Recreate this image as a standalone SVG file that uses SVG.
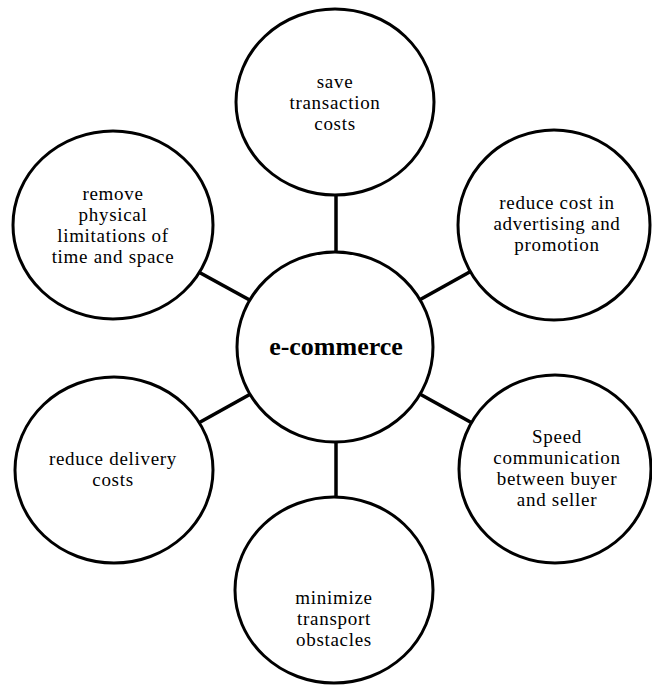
<svg xmlns="http://www.w3.org/2000/svg" width="652" height="686" viewBox="0 0 652 686">
<style>
.c{fill:#fff;stroke:#000;stroke-width:3}
.l{stroke:#000;stroke-width:3.5;fill:none}
.t{font-family:"Liberation Serif","DejaVu Serif","Times New Roman",serif;font-size:19px;letter-spacing:0.7px;fill:#000;text-anchor:middle}
.b{font-family:"Liberation Serif","DejaVu Serif","Times New Roman",serif;font-size:26px;font-weight:bold;fill:#000;text-anchor:middle}
</style>
<rect width="652" height="686" fill="#fff"/>
<g id="connectors">
<line class="l" x1="336" y1="347" x2="336" y2="102"/>
<line class="l" x1="336" y1="347" x2="336" y2="590"/>
<line class="l" x1="335" y1="347" x2="113" y2="225"/>
<line class="l" x1="335" y1="347" x2="554" y2="225"/>
<line class="l" x1="335" y1="347" x2="114" y2="470"/>
<line class="l" x1="335" y1="347" x2="555" y2="469"/>
</g>
<g id="center">
<ellipse class="c" cx="335" cy="347" rx="98" ry="95"/>
<text class="b" x="336" y="355" font-family="Liberation Serif, serif">e-commerce</text>
</g>
<g id="top">
<ellipse class="c" cx="335" cy="102" rx="99" ry="93"/>
<text class="t" x="335" y="88" font-family="Liberation Serif, serif">save</text>
<text class="t" x="335" y="109" font-family="Liberation Serif, serif">transaction</text>
<text class="t" x="335" y="130" font-family="Liberation Serif, serif">costs</text>
</g>
<g id="top-left">
<ellipse class="c" cx="113" cy="225" rx="100" ry="94"/>
<text class="t" x="113" y="200" font-family="Liberation Serif, serif">remove</text>
<text class="t" x="113" y="221" font-family="Liberation Serif, serif">physical</text>
<text class="t" x="113" y="242" font-family="Liberation Serif, serif">limitations of</text>
<text class="t" x="113" y="263" font-family="Liberation Serif, serif">time and space</text>
</g>
<g id="top-right">
<ellipse class="c" cx="554" cy="225" rx="96" ry="95"/>
<text class="t" x="557" y="209" font-family="Liberation Serif, serif">reduce cost in</text>
<text class="t" x="557" y="230" font-family="Liberation Serif, serif">advertising and</text>
<text class="t" x="557" y="251" font-family="Liberation Serif, serif">promotion</text>
</g>
<g id="bottom-left">
<ellipse class="c" cx="114" cy="470" rx="99" ry="93"/>
<text class="t" x="113" y="465" font-family="Liberation Serif, serif">reduce delivery</text>
<text class="t" x="113" y="486" font-family="Liberation Serif, serif">costs</text>
</g>
<g id="bottom-right">
<ellipse class="c" cx="555" cy="469" rx="96" ry="94"/>
<text class="t" x="557" y="443" font-family="Liberation Serif, serif">Speed</text>
<text class="t" x="557" y="464" font-family="Liberation Serif, serif">communication</text>
<text class="t" x="557" y="485" font-family="Liberation Serif, serif">between buyer</text>
<text class="t" x="557" y="506" font-family="Liberation Serif, serif">and seller</text>
</g>
<g id="bottom">
<ellipse class="c" cx="334" cy="590" rx="99" ry="93"/>
<text class="t" x="334" y="604" font-family="Liberation Serif, serif">minimize</text>
<text class="t" x="334" y="625" font-family="Liberation Serif, serif">transport</text>
<text class="t" x="334" y="646" font-family="Liberation Serif, serif">obstacles</text>
</g>
</svg>
